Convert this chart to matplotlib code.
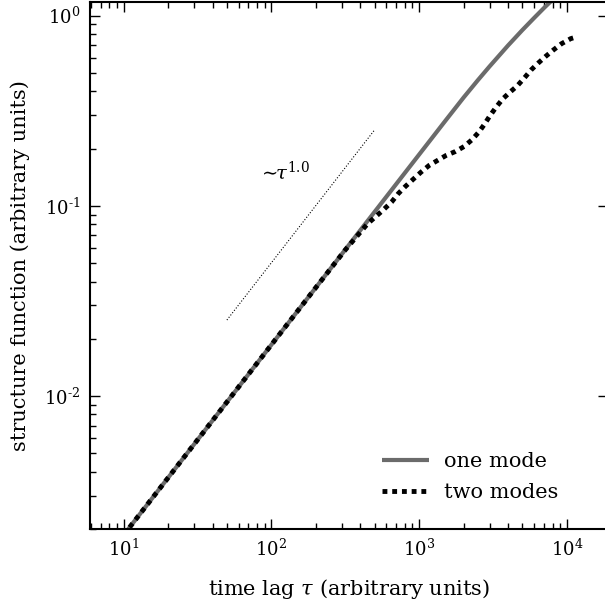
import matplotlib
matplotlib.use("Agg")
import matplotlib.pyplot as plt
from matplotlib.ticker import FuncFormatter
import numpy as np

plt.rcParams['font.family'] = 'DejaVu Serif'
plt.rcParams['mathtext.fontset'] = 'dejavuserif'
plt.rcParams['axes.unicode_minus'] = False

# one mode (solid grey)
tau_one = [10, 20, 50, 100, 200, 500, 1000, 1500, 2000, 2500, 3000, 4000, 5000, 6000, 7000, 8000, 10000, 11300]
sf_one = [0.00186, 0.00372, 0.0093, 0.0186, 0.0372, 0.093, 0.186, 0.279, 0.371, 0.458,
          0.541, 0.697, 0.840, 0.972, 1.097, 1.213, 1.429, 1.56]

# two modes (black dotted)
tau_two = [10, 20, 50, 100, 200, 316, 447, 573, 653, 723, 803, 903, 1026, 1167, 1327,
           1521, 1758, 2014, 2270, 2547, 2773, 3020, 3320, 3682, 4121, 4624, 5152,
           5754, 6412, 7194, 8147, 9226, 10620, 11300]
sf_two = [0.00186, 0.00372, 0.0093, 0.0186, 0.0372, 0.0586, 0.0804, 0.0953, 0.105,
          0.116, 0.126, 0.137, 0.150, 0.163, 0.173, 0.184, 0.193, 0.205, 0.222,
          0.245, 0.269, 0.298, 0.330, 0.365, 0.396, 0.428, 0.470, 0.520, 0.564,
          0.611, 0.662, 0.713, 0.757, 0.768]

# reference power law
tau_ref = [50, 500]
sf_ref = [0.0251, 0.251]


def pow10(v, pos):
    e = int(round(np.log10(v)))
    return r'$10^{\text{%d}}$' % e


fig = plt.figure(figsize=(6.05, 6.07), dpi=100)
ax = fig.add_axes([90 / 605, 78 / 607, 518 / 605, 527 / 607])

ax.plot(tau_one, sf_one, color='0.42', lw=3, label='one mode', solid_capstyle='butt')
ax.plot(tau_two, sf_two, color='black', lw=3.5, linestyle=(0, (1, 1)), label='two modes')
ax.plot(tau_ref, sf_ref, color='black', lw=0.8, linestyle=':')
ax.text(122, 0.153, r'$\sim\!\!\tau^{1.0}$', fontsize=14, ha='center', va='center')

ax.set_xscale('log')
ax.set_yscale('log')
ax.set_xlim(5.92, 19000)
ax.set_ylim(0.002, 1.18)
ax.xaxis.set_major_formatter(FuncFormatter(pow10))
ax.yaxis.set_major_formatter(FuncFormatter(pow10))

for s in ax.spines.values():
    s.set_linewidth(1.5)
ax.tick_params(which='both', direction='in', top=True, right=True, labelsize=13, width=1)
ax.tick_params(which='major', length=7, pad=7)
ax.tick_params(which='minor', length=4, right=False)

ax.set_xlabel(r'time lag $\tau$ (arbitrary units)', fontsize=15, labelpad=12)
ax.set_ylabel('structure function (arbitrary units)', fontsize=15, labelpad=10)

ax.legend(loc='lower right', frameon=False, fontsize=15, handlelength=2.25,
          handletextpad=0.7, labelspacing=0.6, bbox_to_anchor=(0.94, 0.015))

fig.savefig('out.png', dpi=100)
